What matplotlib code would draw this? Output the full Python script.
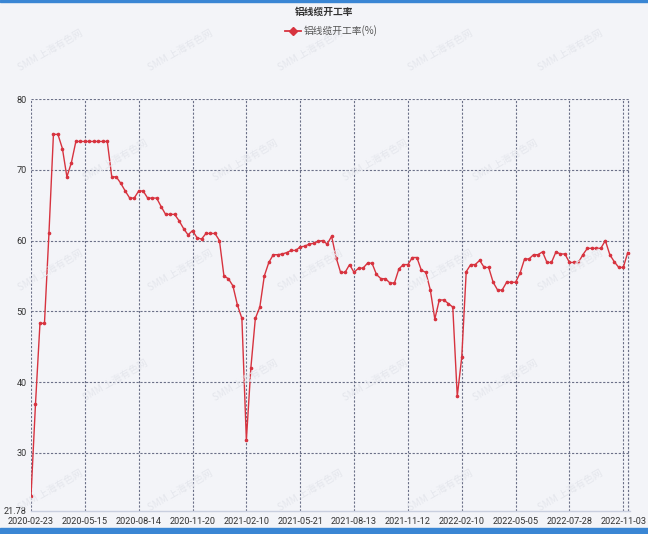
import matplotlib
matplotlib.use("Agg")
import matplotlib.pyplot as plt
from matplotlib.lines import Line2D
import numpy as np

plt.rcParams['font.family'] = ['Noto Sans CJK SC', 'DejaVu Sans']

title = "铝线缆开工率"
series_name = "铝线缆开工率(%)"
tick_labels = ["2020-02-23", "2020-05-15", "2020-08-14", "2020-11-20", "2021-02-10",
               "2021-05-21", "2021-08-13", "2021-11-12", "2022-02-10", "2022-05-05",
               "2022-07-28", "2022-11-03"]
label_step = 12
values = [
    23.9, 36.9, 48.3, 48.3, 61.0, 75.0, 75.0, 73.0, 69.0, 71.0,
    74.0, 74.0, 74.0, 74.0, 74.0, 74.0, 74.0, 74.0, 69.0, 69.0,
    68.1, 67.0, 66.0, 66.0, 67.0, 67.0, 66.0, 66.0, 66.0, 64.8,
    63.7, 63.7, 63.7, 62.8, 61.7, 60.8, 61.4, 60.4, 60.2, 61.0,
    61.0, 61.0, 60.0, 55.0, 54.6, 53.6, 50.9, 49.0, 31.8, 42.0,
    49.0, 50.6, 55.0, 56.9, 58.0, 58.0, 58.1, 58.3, 58.6, 58.6,
    59.1, 59.2, 59.5, 59.6, 59.9, 60.0, 59.5, 60.6, 57.6, 55.5,
    55.5, 56.6, 55.5, 56.1, 56.1, 56.8, 56.8, 55.2, 54.6, 54.6,
    54.0, 54.0, 56.0, 56.6, 56.6, 57.6, 57.6, 55.8, 55.5, 53.0,
    48.9, 51.6, 51.6, 51.1, 50.6, 38.0, 43.5, 55.6, 56.6, 56.6,
    57.2, 56.2, 56.2, 54.1, 53.0, 53.0, 54.1, 54.1, 54.1, 55.4,
    57.4, 57.4, 58.0, 58.0, 58.4, 56.9, 56.9, 58.4, 58.1, 58.1,
    56.9, 56.9, 56.9, 58.0, 58.9, 58.9, 58.9, 58.9, 60.0, 58.0,
    57.0, 56.2, 56.2, 58.3,
]
y_ticks = [21.78, 30, 40, 50, 60, 70, 80]
y_tick_labels = ["21.78", "30", "40", "50", "60", "70", "80"]

W, H = 648, 534
bg = "#f3f4f8"
line_color = "#d7333f"
grid_color = "#6b7088"
tick_font = dict(fontsize=6.6, color="#333333", family="Roboto")

fig = plt.figure(figsize=(W / 100, H / 100), dpi=100)
fig.patch.set_facecolor(bg)

# frame bars top/bottom
fig.add_artist(plt.Rectangle((0, 1 - 2 / H), 1, 2 / H, transform=fig.transFigure,
                             color="#3a86d4", zorder=0))
fig.add_artist(plt.Rectangle((0, 0), 1, 6 / H, transform=fig.transFigure,
                             color="#3a86d4", zorder=0))

left, right, top, bottom = 31, 630, 99, 511
ax = fig.add_axes([left / W, (H - bottom) / H, (right - left) / W, (bottom - top) / H])
ax.set_facecolor(bg)

x = np.arange(len(values))
ax.plot(x, values, color=line_color, lw=1.0, marker="o", ms=1.6, zorder=3)

ax.set_xlim(0, 133.5)
ax.set_ylim(21.78, 80)

tick_pos = [i * label_step for i in range(len(tick_labels))]
ax.set_xticks(tick_pos)
ax.set_xticklabels(tick_labels[:-1] + [""], **tick_font)
ax.set_yticks(y_ticks)
ax.set_yticklabels(y_tick_labels, **tick_font)
ax.tick_params(axis="x", length=0, pad=4)
ax.tick_params(axis="y", length=0, pad=3)
fig.text(647 / W, 1 - 521 / H, tick_labels[-1], ha="right", va="center", **tick_font)

for v in y_ticks[1:]:
    ax.axhline(v, color=grid_color, lw=0.8, ls=(0, (2, 1.5)), zorder=1)
for p in tick_pos + [133, 133.5]:
    ax.axvline(p, color=grid_color, lw=0.8, ls=(0, (2, 1.5)), zorder=1)

for s in ["top", "right", "left"]:
    ax.spines[s].set_visible(False)
ax.spines["bottom"].set_color("#c9cfdf")
ax.spines["bottom"].set_linewidth(1.0)

# title & legend
fig.text(0.5, 1 - 12 / H, title, ha="center", va="center", fontsize=7,
         fontweight="bold", color="#333333")
fig.add_artist(Line2D([285 / W, 301 / W], [1 - 31 / H, 1 - 31 / H], transform=fig.transFigure,
                      color=line_color, lw=1.3))
fig.add_artist(Line2D([293 / W], [1 - 31 / H], transform=fig.transFigure,
                      color=line_color, marker="D", ms=4, lw=0))
fig.text(304 / W, 1 - 31 / H, series_name, ha="left", va="center", fontsize=7, color="#555555")

# watermarks (faint)
for row, wy in enumerate([50, 160, 270, 380, 490]):
    xs = [115, 245, 375, 505] if row % 2 else [50, 180, 310, 440, 570]
    for wx in xs:
        fig.text(wx / W, 1 - wy / H, "SMM 上海有色网", fontsize=7, color="#e4e6ec",
                 rotation=30, ha="center", va="center", zorder=0.5)

fig.savefig("out.png", dpi=100, facecolor=bg)
